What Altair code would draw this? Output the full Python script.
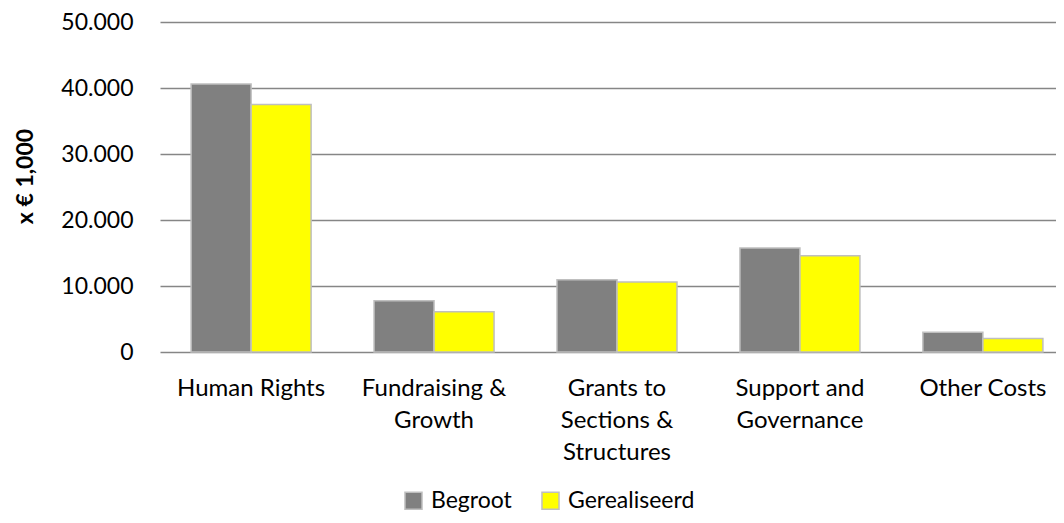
import altair as alt
import pandas as pd

categories = ["Human Rights", "Fundraising &\nGrowth", "Grants to\nSections &\nStructures",
              "Support and\nGovernance", "Other Costs"]
series = ["Begroot", "Gerealiseerd"]
begroot = [40600, 7750, 10950, 15750, 3000]
gerealiseerd = [37500, 6100, 10600, 14600, 2050]
y_ticks = [0, 10000, 20000, 30000, 40000, 50000]
colors = ["#808080", "#ffff00"]

rows = []
for c, b, g in zip(categories, begroot, gerealiseerd):
    rows.append({"cat": c, "series": "Begroot", "value": b})
    rows.append({"cat": c, "series": "Gerealiseerd", "value": g})
df = pd.DataFrame(rows)

FONT = "Lato"

chart = alt.Chart(df).mark_bar(stroke="#bfbfbf", strokeWidth=1.5).encode(
    x=alt.X("cat:N", sort=categories, title=None,
            scale=alt.Scale(range=[0, 914], paddingInner=0.344, paddingOuter=0.17),
            axis=alt.Axis(labelExpr="split(datum.label, '\\n')", labelAngle=0,
                          labelFont=FONT, labelFontSize=24, labelColor="#000000",
                          labelPadding=24, labelLineHeight=32, ticks=False,
                          domain=False, labelLimit=300)),
    xOffset=alt.XOffset("series:N", sort=series, scale=alt.Scale(paddingInner=0, paddingOuter=0)),
    y=alt.Y("value:Q", title="x € 1,000",
            scale=alt.Scale(domain=[0, 50000], nice=False),
            axis=alt.Axis(values=y_ticks,
                          labelExpr="replace(format(datum.value, ','), ',', '.')",
                          labelFont=FONT, labelFontSize=23, labelColor="#000000",
                          labelPadding=27, ticks=False, domain=False,
                          grid=True, gridColor="#868686", gridWidth=1.6,
                          titleFont=FONT, titleFontSize=23, titleFontWeight="bold",
                          titleColor="#000000", titleAngle=270,
                          titleX=-135, titleY=154, titleAlign="center",
                          titleBaseline="middle")),
    color=alt.Color("series:N", sort=series,
                    scale=alt.Scale(domain=series, range=colors),
                    legend=alt.Legend(title=None, orient="none", direction="horizontal",
                                      legendX=242, legendY=467,
                                      symbolType="square", symbolSize=290,
                                      symbolStrokeColor="#bfbfbf", symbolStrokeWidth=1.5,
                                      symbolOpacity=1,
                                      labelFont=FONT, labelFontSize=23, labelColor="#000000",
                                      labelOffset=6, columnPadding=26)),
).properties(
    width=896, height=330,
    autosize=alt.AutoSizeParams(type="none"),
    padding={"left": 152, "top": 14, "right": 0, "bottom": 163},
).configure_view(stroke=None)

chart.save("out.html", embed_options={"renderer": "svg", "actions": False})
